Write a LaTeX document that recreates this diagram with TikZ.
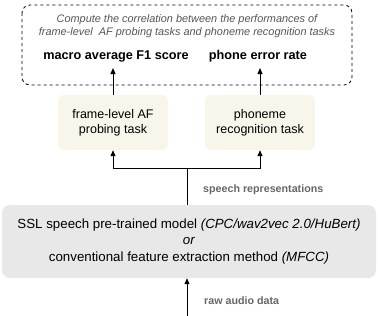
\documentclass[tikz,border=0pt]{standalone}
\usepackage{fontspec}
\setmainfont{Liberation Sans}
\usetikzlibrary{arrows.meta}
\definecolor{taskfill}{HTML}{F8F5EA}
\definecolor{sslfill}{HTML}{E8E8E8}
\definecolor{labgray}{HTML}{666666}
\definecolor{itgray}{HTML}{555555}
\tikzset{
  taskbox/.style={rectangle, rounded corners=6pt, fill=taskfill, minimum width=110pt, minimum height=55pt, align=center, font=\fontsize{12.5}{15}\selectfont, inner sep=0pt},
  sslbox/.style={rectangle, rounded corners=8pt, fill=sslfill, minimum width=374pt, minimum height=73pt, align=center, font=\fontsize{13.3}{16.5}\selectfont, inner sep=0pt},
  lab/.style={font=\fontsize{10.7}{12}\selectfont\bfseries, text=labgray, anchor=west, inner sep=0pt},
  metric/.style={font=\fontsize{12.7}{14}\selectfont\bfseries, inner sep=0pt},
  arr/.style={-{Triangle[length=6pt,width=5pt]}, line width=0.9pt},
  ln/.style={line width=0.9pt}
}
\begin{document}
\begin{tikzpicture}[x=1pt,y=-1pt]
\useasboundingbox (0,0) rectangle (378,316);
\draw[dashed, line width=0.8pt, rounded corners=8pt] (22,5) rectangle (352,85);
\node[font=\fontsize{10.9}{13}\selectfont\itshape, text=itgray, align=center, inner sep=0pt] (cap) at (187,26) {Compute the correlation between the performances of\\frame-level\ \ AF probing tasks and phoneme recognition tasks};
\node[metric] (f1) at (116,56) {macro average F1 score};
\node[metric] (per) at (258,56) {phone error rate};
\node[taskbox] (af) at (113,122.5) {frame-level AF\\probing task};
\node[taskbox] (pr) at (260,122.5) {phoneme\\recognition task};
\node[sslbox] (ssl) at (189,241.5) {SSL speech pre-trained model \textit{(CPC/wav2vec 2.0/HuBert)}\\\textit{or}\\conventional feature extraction method \textit{(MFCC)}};
\coordinate (j) at (187,168);
\coordinate (raw) at (187,316);
\coordinate (f1t) at (113,68);
\coordinate (pert) at (260,68);
\draw[arr] (af.north) -- (f1t);
\draw[arr] (pr.north) -- (pert);
\draw[ln] (ssl.north -| j) -- (j);
\draw[arr] (j) -| (af.south);
\draw[arr] (j) -| (pr.south);
\draw[arr] (raw) -- (ssl.south -| raw);
\node[lab] (sr) at (203,190) {speech representations};
\node[lab] (rad) at (204,301) {raw audio data};
\end{tikzpicture}
\end{document}
